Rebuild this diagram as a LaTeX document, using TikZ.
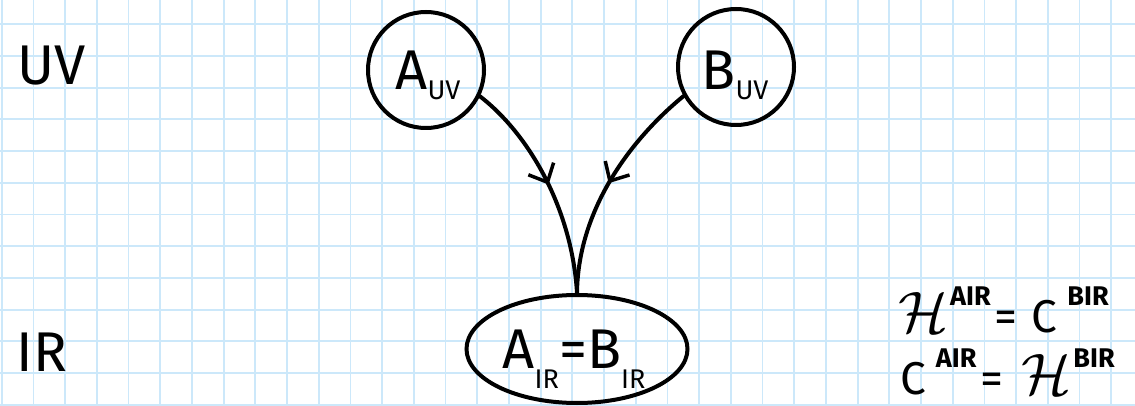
\documentclass[tikz,border=0pt]{standalone}
\usepackage{fontspec}
\setmainfont{Fira Sans}
\usetikzlibrary{decorations.markings,arrows.meta,shapes.geometric}
\definecolor{gridblue}{RGB}{204,232,250}
\newcommand\hwsub[2]{\raisebox{#1}{\fontsize{27}{27}\selectfont #2}}
\newcommand\hwsup[2]{\raisebox{27pt}{\fontsize{27}{27}\selectfont\bfseries #1#2}}
\newcommand\calH{\resizebox{!}{40pt}{$\mathcal{H}$}}
\begin{document}
\begin{tikzpicture}[x=1pt,y=-1pt,
  gridline/.style={gridblue,line width=1.8pt},
  circ/.style={circle,draw=black,line width=4pt,minimum size=116pt,inner sep=0pt},
  ell/.style={ellipse,draw=black,line width=4pt,minimum width=221pt,minimum height=108pt,inner sep=0pt},
  lbl/.style={inner sep=0pt,font=\fontsize{56}{58}\selectfont},
  eq/.style={inner sep=0pt,anchor=base west,font=\fontsize{46}{48}\selectfont},
  flow/.style={line width=4pt,line cap=round,postaction={decorate},
    decoration={markings,mark=at position 0.5 with {\arrow{Straight Barb[length=15pt,width=28pt,line width=3.5pt]}}}}
]
\useasboundingbox (0,0) rectangle (1135,406);
\fill[white] (0,0) rectangle (1135,406);
\foreach \i in {0,...,35} \draw[gridline] ({1.7+31.7*\i},0) -- ({1.7+31.7*\i},406);
\foreach \j in {0,...,12} \draw[gridline] (0,{24.3+31.7*\j}) -- (1135,{24.3+31.7*\j});

\node[lbl] (uv) at (52,66) {UV};
\node[lbl] (irl) at (42,352) {IR};

\node[circ] (auv) at (426,70) {};
\node[circ] (buv) at (736,67) {};
\node[ell] (ir) at (577,349) {};

\node[lbl,anchor=base] (auvt) at (428,90) {A\hwsub{-10pt}{UV}};
\node[lbl,anchor=base] (buvt) at (735,90) {B\hwsub{-10pt}{UV}};
\node[lbl,anchor=base] (irt) at (574,368) {A\hwsub{-20pt}{IR}=B\hwsub{-20pt}{IR}};

\node[eq] (eq1) at (898,332) {\calH\hspace{2pt}\hwsup{A}{IR}\hspace{4pt}=\hspace{14pt}C\hspace{10pt}\hwsup{B}{IR}};
\node[eq] (eq2) at (900,394) {C\hspace{10pt}\hwsup{A}{IR}\hspace{4pt}=\hspace{18pt}\calH\hspace{2pt}\hwsup{B}{IR}};

\draw[flow] (auv.-26) .. controls (530,135) and (572,210) .. (ir.north);
\draw[flow] (buv.-151) .. controls (630,140) and (578,210) .. (ir.north);
\end{tikzpicture}
\end{document}
